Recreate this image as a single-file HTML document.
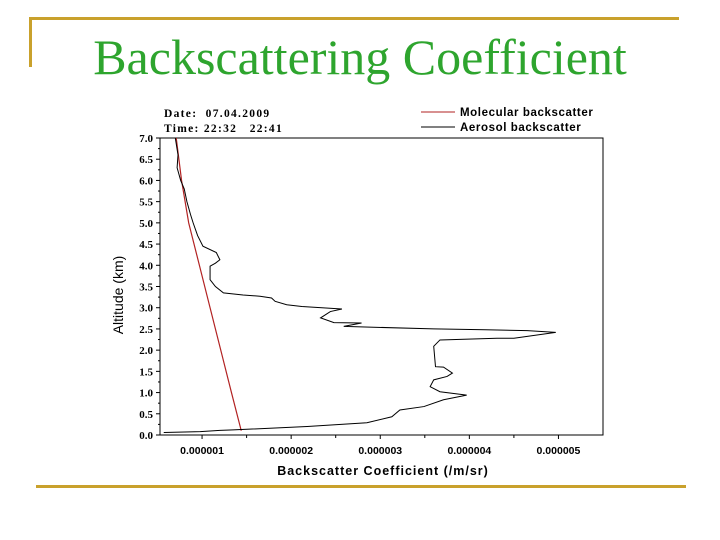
<!DOCTYPE html>
<html><head><meta charset="utf-8"><style>
body{margin:0;background:#fff;width:720px;height:540px;overflow:hidden;position:relative;font-family:"Liberation Sans",sans-serif}
.t{position:absolute;left:0;width:720px;top:24px;text-align:center;font-family:"Liberation Serif",serif;font-size:50px;color:#2ea52e;line-height:66px;padding-left:0}
</style></head><body>
<div style="position:absolute;left:29px;top:17px;width:650px;height:3px;background:#c9a12c"></div>
<div style="position:absolute;left:29px;top:17px;width:3px;height:50px;background:#c9a12c"></div>
<div style="position:absolute;left:36px;top:485px;width:650px;height:3px;background:#c9a12c"></div>
<div class="t">Backscattering Coefficient</div>
<svg id="c" width="720" height="540" style="position:absolute;left:0;top:0"></svg>
<script>
const xTicks=[1,2,3,4,5];
const xTickLabels=["0.000001","0.000002","0.000003","0.000004","0.000005"];
const yTicks=[0,0.5,1,1.5,2,2.5,3,3.5,4,4.5,5,5.5,6,6.5,7];
const molAlt=[7.0,6.0,5.0,4.0,3.0,2.0,1.0,0.1];
const molVal=[0.71,0.77,0.85,0.97,1.09,1.21,1.33,1.44];
const aerAlt=[7.0,6.6,6.3,6.0,5.8,5.5,5.2,5.0,4.7,4.45,4.3,4.13,4.05,3.98,3.66,3.5,3.35,3.3,3.27,3.23,3.15,3.07,3.03,2.97,2.91,2.76,2.65,2.64,2.56,2.5,2.48,2.46,2.42,2.28,2.28,2.24,2.09,1.61,1.6,1.46,1.38,1.3,1.14,1.02,0.94,0.83,0.67,0.59,0.43,0.29,0.2,0.12,0.11,0.08,0.06];
const aerVal=[0.70,0.73,0.72,0.76,0.80,0.83,0.87,0.90,0.95,1.01,1.16,1.20,1.15,1.09,1.09,1.15,1.24,1.46,1.65,1.78,1.82,1.95,2.12,2.57,2.44,2.33,2.48,2.79,2.59,3.6,4.18,4.65,4.97,4.5,4.31,3.67,3.6,3.62,3.71,3.81,3.75,3.6,3.56,3.67,3.97,3.71,3.49,3.22,3.13,2.85,2.18,1.35,1.2,0.98,0.57];
const NS="http://www.w3.org/2000/svg",svg=document.getElementById('c');
const L=160,R=603,T=138,B=435,X0=0.528,X1=5.5,Y1=7;
const sx=v=>L+(v-X0)/(X1-X0)*(R-L), sy=a=>B-a/Y1*(B-T);
function mk(t,a){const e=document.createElementNS(NS,t);for(const k in a)e.setAttribute(k,a[k]);svg.appendChild(e);return e;}
const fr=mk('rect',{x:L,y:T,width:R-L,height:B-T,fill:'none',stroke:'#000','stroke-width':1});


yTicks.forEach(v=>{const y=sy(v);mk('line',{x1:L-4,x2:L,y1:y,y2:y,stroke:'#000'});
const t=mk('text',{x:L-7,y:y+4,'text-anchor':'end','font-size':11,'font-weight':'bold','font-family':'Liberation Serif, serif'});t.textContent=v.toFixed(1);


if(v<7){const m=sy(v+0.25);mk('line',{x1:L-2,x2:L,y1:m,y2:m,stroke:'#000'});}});
xTicks.forEach((v,i)=>{const x=sx(v);mk('line',{x1:x,x2:x,y1:B,y2:B+4,stroke:'#000'});
const m=sx(v+0.5);if(m<R)mk('line',{x1:m,x2:m,y1:B,y2:B+3,stroke:'#000'});
const t=mk('text',{x:x,y:B+19,'text-anchor':'middle','font-size':10.5,'font-weight':'bold'});t.textContent=xTickLabels[i];

});
const xt=mk('text',{x:383,y:475,'text-anchor':'middle','font-size':12.5,'font-weight':'bold','letter-spacing':'1'});xt.textContent="Backscatter Coefficient (/m/sr)";


const yt=mk('text',{x:0,y:0,transform:'translate(123,295) rotate(-90)','text-anchor':'middle','font-size':14});yt.textContent="Altitude (km)";


const mol=mk('polyline',{points:molAlt.map((a,i)=>sx(molVal[i])+','+sy(a)).join(' '),fill:'none',stroke:'#b22222','stroke-width':1.2});


const aer=mk('polyline',{points:aerAlt.map((a,i)=>sx(aerVal[i])+','+sy(a)).join(' '),fill:'none',stroke:'#000','stroke-width':1});


[["Date:  07.04.2009",117],["Time: 22:32   22:41",132]].forEach(([s,y])=>{const t=mk('text',{x:164,y:y,'font-size':11.5,'font-weight':'bold','letter-spacing':'1.3','font-family':'Liberation Serif, serif','xml:space':'preserve'});t.textContent=s;t.style.whiteSpace='pre';

});
[["Molecular backscatter","#b22222",116],["Aerosol backscatter","#000",131]].forEach(([s,c,y])=>{mk('line',{x1:421,x2:455,y1:y-4,y2:y-4,stroke:c});
const t=mk('text',{x:460,y:y,'font-size':11.5,'font-weight':'bold','letter-spacing':'0.6'});t.textContent=s;

});
</script>
</body></html>
